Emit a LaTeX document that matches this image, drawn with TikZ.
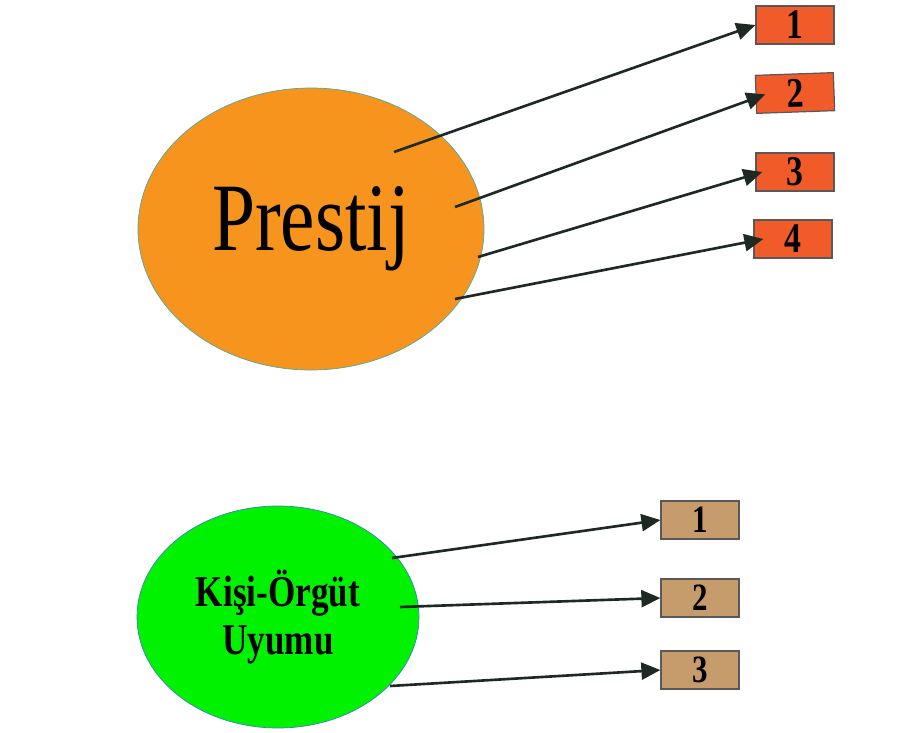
\documentclass[tikz,border=0pt]{standalone}
\usepackage{fontspec}
\setmainfont{Liberation Serif}
\usepackage{xcolor}
\usetikzlibrary{shapes, arrows.meta, positioning}

\definecolor{prestijfill}{HTML}{F7941D}
\definecolor{prestijline}{HTML}{4FA8A0}
\definecolor{itemorange}{HTML}{F15A29}
\definecolor{uyumfill}{HTML}{00F200}
\definecolor{uyumline}{HTML}{3A7FC0}
\definecolor{itembrown}{HTML}{C69C6D}
\definecolor{arrowdark}{HTML}{1E2924}

\newcommand{\narrowtext}[1]{\scalebox{0.8}[1]{#1}}

\begin{document}
\begin{tikzpicture}[>={Triangle[length=0.38cm, width=0.34cm]}, line width=1.5pt,
    oval/.style={ellipse, draw, line width=0.4pt, inner sep=0pt},
    numbox/.style={draw=black!65, rectangle, line width=0.7pt, minimum width=1.56cm, minimum height=0.76cm, inner sep=0pt, font=\fontsize{24}{28}\selectfont\bfseries},
    link/.style={->, draw=arrowdark}]
    \useasboundingbox (0,0) rectangle (18.26,-14.66);

    % upper part
    \node[oval, fill=prestijfill, draw=prestijline, minimum width=6.92cm, minimum height=5.64cm, font=\fontsize{55}{60}\selectfont] (prestij) at (6.22,-4.58) {\narrowtext{Prestij}};

    \node[numbox, fill=itemorange] (o1) at (15.9,-0.5) {\narrowtext{1}};
    \node[numbox, fill=itemorange, rotate=2] (o2) at (15.9,-1.86) {\narrowtext{2}};
    \node[numbox, fill=itemorange] (o3) at (15.9,-3.44) {\narrowtext{3}};
    \node[numbox, fill=itemorange] (o4) at (15.86,-4.78) {\narrowtext{4}};

    \coordinate (p1) at (7.88,-3.04);
    \coordinate (p2) at (9.1,-4.14);
    \coordinate (p3) at (9.56,-5.14);
    \coordinate (p4) at (9.1,-5.98);

    \draw[link] (p1) -- (o1.west);
    \draw[link] (p2) -- ([xshift=0.2cm]o2.west);
    \draw[link] (p3) -- ([xshift=0.14cm]o3.west);
    \draw[link] (p4) -- ([xshift=0.2cm]o4.west);

    % lower part
    \node[oval, fill=uyumfill, draw=uyumline, minimum width=5.64cm, minimum height=4.44cm, align=center, font=\fontsize{25}{27}\selectfont\bfseries] (uyum) at (5.56,-12.34) {\narrowtext{Kişi-Örgüt}\\\narrowtext{Uyumu}};

    \node[numbox, fill=itembrown, font=\fontsize{22}{26}\selectfont\bfseries] (b1) at (14.0,-10.4) {\narrowtext{1}};
    \node[numbox, fill=itembrown, font=\fontsize{22}{26}\selectfont\bfseries] (b2) at (14.0,-11.96) {\narrowtext{2}};
    \node[numbox, fill=itembrown, font=\fontsize{22}{26}\selectfont\bfseries] (b3) at (14.0,-13.4) {\narrowtext{3}};

    \coordinate (g1) at (7.84,-11.16);
    \coordinate (g2) at (8.0,-12.14);
    \coordinate (g3) at (7.8,-13.72);

    \draw[link] (g1) -- (b1.west);
    \draw[link] (g2) -- (b2.west);
    \draw[link] (g3) -- (b3.west);
\end{tikzpicture}
\end{document}
